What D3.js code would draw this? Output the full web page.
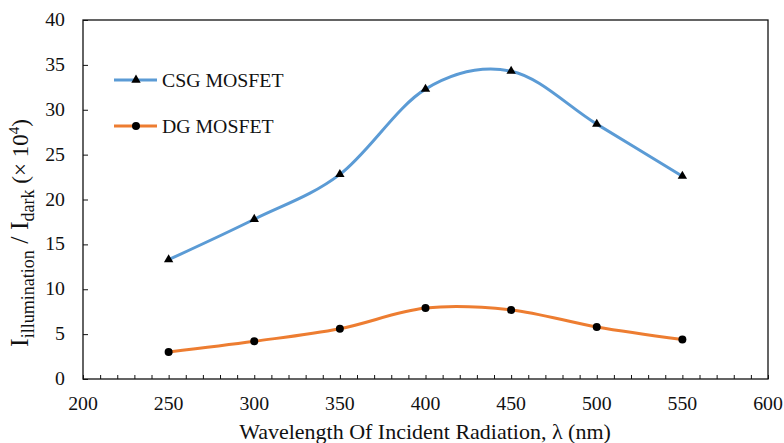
<!DOCTYPE html>
<html lang="en">
<head>
<meta charset="UTF-8">
<title>Ratio vs wavelength</title>
<script src="https://d3js.org/d3.v7.min.js"></script>
<style>
    body { margin: 0; background: #fff; }
    svg text { font-family: 'Liberation Serif', 'Times New Roman', serif; fill: #111; }
</style>
</head>
<body>
<svg id="chart" width="784" height="443"></svg>
<script>
    const wavelengths = [250, 300, 350, 400, 450, 500, 550];
    const csgValues = [13.3, 17.8, 22.8, 32.3, 34.3, 28.4, 22.6];
    const dgValues = [3.0, 4.2, 5.6, 7.9, 7.7, 5.8, 4.4];
    const xTicks = [200, 250, 300, 350, 400, 450, 500, 550, 600];
    const yTicks = [0, 5, 10, 15, 20, 25, 30, 35, 40];

    const svg = d3.select("#chart");
    const plotLeft = 83, plotRight = 768, plotTop = 20, plotBottom = 379;
    const stretch = 1.1; // the source picture is a bit wider than tall

    const x = d3.scaleLinear().domain([200, 600]).range([plotLeft, plotRight]);
    const y = d3.scaleLinear().domain([0, 40]).range([plotBottom, plotTop]);

    // frame
    svg.append("rect")
        .attr("x", plotLeft).attr("y", plotTop)
        .attr("width", plotRight - plotLeft).attr("height", plotBottom - plotTop)
        .attr("fill", "none").attr("stroke", "#111").attr("stroke-width", 1.3);

    // x ticks (minor every 10, inward)
    const xAxis = svg.append("g").attr("transform", `translate(0,${plotBottom})`)
        .call(d3.axisTop(x).tickValues(d3.range(200, 601, 10)).tickSize(4).tickFormat(""));
    xAxis.select(".domain").remove();
    xAxis.selectAll("line").attr("stroke", "#111");

    svg.append("g").selectAll("text").data(xTicks).join("text")
        .attr("transform", d => `translate(${x(d)},${plotBottom + 31}) scale(${stretch},1)`)
        .attr("text-anchor", "middle").attr("font-size", 18)
        .text(d => d);

    // y ticks (inward)
    const yAxis = svg.append("g").attr("transform", `translate(${plotLeft},0)`)
        .call(d3.axisRight(y).tickValues(yTicks).tickSize(5).tickFormat(""));
    yAxis.select(".domain").remove();
    yAxis.selectAll("line").attr("stroke", "#111");

    svg.append("g").selectAll("text").data(yTicks).join("text")
        .attr("transform", d => `translate(${plotLeft - 18},${y(d) + 6}) scale(${stretch},1)`)
        .attr("text-anchor", "end").attr("font-size", 18)
        .text(d => d);

    // axis titles
    svg.append("text")
        .attr("transform", `translate(425,439) scale(${stretch},1)`)
        .attr("text-anchor", "middle").attr("font-size", 20)
        .text("Wavelength Of Incident Radiation, λ (nm)");

    const yt = svg.append("text")
        .attr("transform", "translate(28,233) rotate(-90)")
        .attr("text-anchor", "middle").attr("font-size", 26);
    yt.append("tspan").text("I");
    yt.append("tspan").attr("font-size", 18).attr("dy", 6).text("illumination");
    yt.append("tspan").attr("dy", -6).text(" / I");
    yt.append("tspan").attr("font-size", 18).attr("dy", 6).text("dark");
    yt.append("tspan").attr("dy", -6).attr("font-size", 23).text(" (× 10");
    yt.append("tspan").attr("font-size", 15).attr("dy", -9).text("4");
    yt.append("tspan").attr("font-size", 23).attr("dy", 9).text(")");

    const line = d3.line()
        .x(d => x(d[0])).y(d => y(d[1]))
        .curve(d3.curveCardinal.tension(0));

    const series = [
        { name: "CSG MOSFET", values: csgValues, color: "#5B9BD5", marker: d3.symbolTriangle, size: 38, ly: 80 },
        { name: "DG MOSFET", values: dgValues, color: "#ED7D31", marker: d3.symbolCircle, size: 50, ly: 126 }
    ];

    series.forEach(s => {
        const pts = wavelengths.map((w, i) => [w, s.values[i]]);
        svg.append("path").datum(pts)
            .attr("d", line)
            .attr("fill", "none").attr("stroke", s.color).attr("stroke-width", 3);
        svg.append("g").selectAll("path").data(pts).join("path")
            .attr("transform", d => `translate(${x(d[0])},${y(d[1])})`)
            .attr("d", d3.symbol(s.marker, s.size))
            .attr("fill", "#000");

        // legend
        svg.append("line")
            .attr("x1", 114).attr("x2", 157).attr("y1", s.ly).attr("y2", s.ly)
            .attr("stroke", s.color).attr("stroke-width", 3);
        svg.append("path")
            .attr("transform", `translate(136,${s.ly})`)
            .attr("d", d3.symbol(s.marker, s.size))
            .attr("fill", "#000");
        svg.append("text")
            .attr("transform", `translate(162,${s.ly + 7}) scale(${stretch},1)`)
            .attr("font-size", 18)
            .text(s.name);
    });
</script>
</body>
</html>
